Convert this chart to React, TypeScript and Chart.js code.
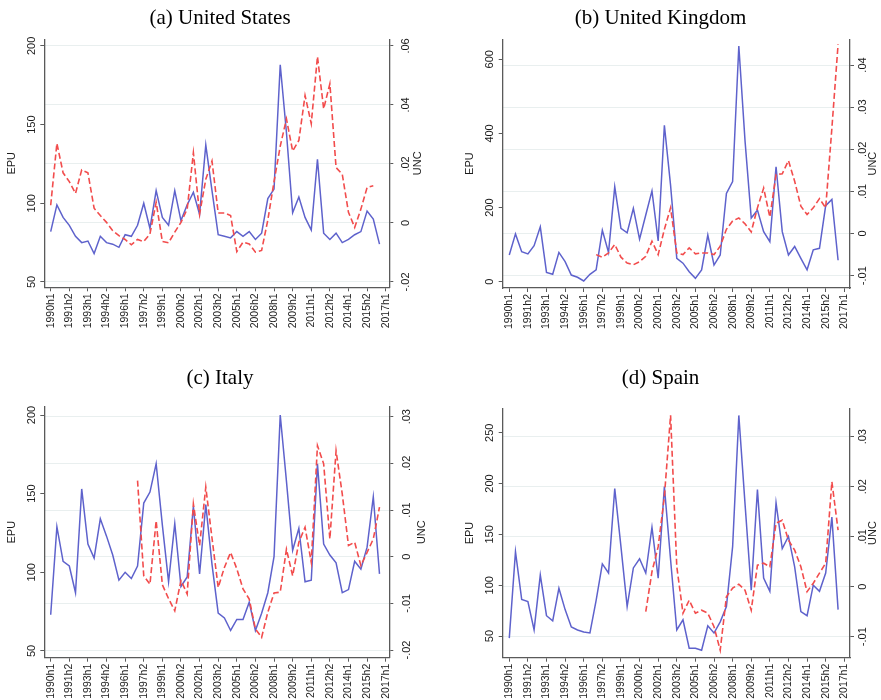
import React, { useEffect, useRef } from 'react';
import { Chart, registerables } from 'chart.js';

Chart.register(...registerables);

// ---------- data ----------
const PERIODS = [
  '1990h1', '1990h2', '1991h1', '1991h2', '1992h1', '1992h2', '1993h1', '1993h2', '1994h1', '1994h2',
  '1995h1', '1995h2', '1996h1', '1996h2', '1997h1', '1997h2', '1998h1', '1998h2', '1999h1', '1999h2',
  '2000h1', '2000h2', '2001h1', '2001h2', '2002h1', '2002h2', '2003h1', '2003h2', '2004h1', '2004h2',
  '2005h1', '2005h2', '2006h1', '2006h2', '2007h1', '2007h2', '2008h1', '2008h2', '2009h1', '2009h2',
  '2010h1', '2010h2', '2011h1', '2011h2', '2012h1', '2012h2', '2013h1', '2013h2', '2014h1', '2014h2',
  '2015h1', '2015h2', '2016h1', '2016h2', '2017h1',
];
const X_TICKS = [0, 3, 6, 9, 12, 15, 18, 21, 24, 27, 30, 33, 36, 39, 42, 45, 48, 51, 54];

const US_EPU = [82, 99, 91, 86, 79, 75, 76, 68, 79, 75, 74, 72, 80, 79, 86, 100, 84, 108, 91, 86,
  108, 89, 99, 107, 93, 137, 108, 80, 79, 78, 82, 79, 82, 77, 81, 103, 109, 188, 145, 94,
  104, 91, 83, 128, 81, 77, 81, 75, 77, 80, 82, 95, 90, 74];
const US_UNC = [0.006, 0.027, 0.017, 0.014, 0.010, 0.018, 0.017, 0.005, 0.0025, 0.0002,
  -0.0026, -0.0043, -0.0056, -0.0074, -0.0056, -0.0063, -0.0037, 0.007, -0.0063, -0.0067,
  -0.0031, 0.0002, 0.0047, 0.0238, 0.003, 0.0148, 0.021, 0.0034, 0.0034, 0.0025,
  -0.0097, -0.0065, -0.0071, -0.0099, -0.0093, 0.001, 0.014, 0.026, 0.0353, 0.0244,
  0.028, 0.0432, 0.0337, 0.0564, 0.0387, 0.0472, 0.0188, 0.0165, 0.0036, -0.0015,
  0.0047, 0.012, 0.0126, null];

const UK_EPU = [72, 129, 81, 75, 97, 148, 25, 20, 79, 54, 18, 12, 2, 20, 32, 139, 79, 256, 144, 132,
  198, 115, 180, 245, 110, 422, 260, 63, 50, 27, 9, 32, 126, 45, 72, 238, 270, 636, 380, 172,
  193, 135, 108, 310, 135, 72, 95, 63, 32, 86, 90, 205, 222, 58];
const UK_UNC = [null, null, null, null, null, null, null, null, null, null,
  null, null, null, null, -0.005, -0.0056, -0.0046, -0.0026, -0.0056, -0.007,
  -0.0074, -0.0067, -0.0054, -0.0018, -0.005, 0.001, 0.0061, -0.0046, -0.005, -0.0034,
  -0.0048, -0.0046, -0.0046, -0.005, -0.003, 0.001, 0.003, 0.0037, 0.0023, 0.0004,
  0.0061, 0.0108, 0.0039, 0.014, 0.0142, 0.0173, 0.0124, 0.0065, 0.0045, 0.0061,
  0.0083, 0.0061, 0.025, 0.0449];

const IT_EPU = [73, 129, 107, 104, 87, 153, 118, 109, 134, 123, 111, 95, 100, 96, 104, 144, 151, 169, 130, 94,
  131, 91, 97, 142, 99, 143, 105, 74, 71, 63, 70, 70, 81, 63, 74, 87, 110, 200, 158, 114,
  128, 94, 95, 169, 118, 111, 106, 87, 89, 107, 102, 116, 148, 99];
const IT_UNC = [null, null, null, null, null, null, null, null, null, null,
  null, null, null, null, 0.0163, -0.0041, -0.0059, 0.0077, -0.006, -0.009,
  -0.0116, -0.0051, -0.008, 0.0113, 0.0024, 0.0149, 0.004, -0.0066, -0.0023, 0.0009,
  -0.0026, -0.0069, -0.0091, -0.0155, -0.0173, -0.0119, -0.0078, -0.0076, 0.0016, -0.0041,
  0.0031, 0.0063, -0.0012, 0.0238, 0.0199, 0.0038, 0.0227, 0.0134, 0.0024, 0.0031,
  -0.0019, 0.0009, 0.0038, 0.0106];

const ES_EPU = [48, 133, 86, 84, 56, 110, 70, 65, 97, 76, 59, 56, 54, 53, 85, 121, 112, 195, 138, 79,
  117, 126, 112, 157, 107, 197, 125, 56, 66, 38, 38, 36, 60, 53, 64, 79, 138, 267, 180, 95,
  194, 107, 94, 181, 136, 148, 118, 74, 70, 100, 94, 112, 167, 76];
const ES_UNC = [null, null, null, null, null, null, null, null, null, null,
  null, null, null, null, null, null, null, null, null, null,
  null, null, -0.005, 0.003, 0.008, 0.018, 0.0343, 0.004, -0.0053, -0.0027,
  -0.0053, -0.0047, -0.0053, -0.008, -0.0127, -0.002, -0.0003, 0.0005, -0.0007, -0.0047,
  0.0043, 0.0047, 0.004, 0.0127, 0.0133, 0.0093, 0.0073, 0.004, -0.001, 0.0007,
  0.0027, 0.0047, 0.021, 0.0113];

const US_EPU_TICKS = [50, 100, 150, 200];
const US_UNC_TICKS = [-0.02, 0, 0.02, 0.04, 0.06];
const UK_EPU_TICKS = [0, 200, 400, 600];
const UK_UNC_TICKS = [-0.01, 0, 0.01, 0.02, 0.03, 0.04];
const IT_EPU_TICKS = [50, 100, 150, 200];
const IT_UNC_TICKS = [-0.02, -0.01, 0, 0.01, 0.02, 0.03];
const ES_EPU_TICKS = [50, 100, 150, 200, 250];
const ES_UNC_TICKS = [-0.01, 0, 0.01, 0.02, 0.03];

// ---------- style ----------
const BLUE = '#5e62cc';
const RED = '#f24c4c';
const AXIS = '#5a5a5a';
const GRID = '#e9efef';
const TEXT = '#1c1c1c';
const SANS = '"Liberation Sans", Arial, Helvetica, sans-serif';
const SERIF = '"Liberation Serif", "Times New Roman", serif';

const fmtUnc = (v: number) => {
  if (Math.abs(v) < 1e-9) return '0';
  return v.toFixed(2).replace('0.', '.');
};

const axisTitles = {
  id: 'axisTitles',
  afterDraw(chart: any, _args: any, opts: any) {
    const { ctx, chartArea } = chart;
    const cy = (chartArea.top + chartArea.bottom) / 2;
    ctx.save();
    ctx.font = `11px ${SANS}`;
    ctx.fillStyle = TEXT;
    ctx.textAlign = 'center';
    ctx.textBaseline = 'middle';
    const items: [string, number][] = [
      [opts.left, chartArea.left - opts.leftOffset],
      [opts.right, chartArea.right + opts.rightOffset],
    ];
    for (const [t, x] of items) {
      ctx.save();
      ctx.translate(x, cy);
      ctx.rotate(-Math.PI / 2);
      ctx.fillText(t, 0, 0);
      ctx.restore();
    }
    ctx.restore();
  },
};

type PanelCfg = {
  title: string;
  x: number; y: number; w: number; h: number;
  leftW: number; rightW: number; titleTop: number; titleBottom: number; xH: number;
  xMin: number; xMax: number;
  lMin: number; lMax: number; lTicks: number[];
  rMin: number; rMax: number; rTicks: number[];
  lPad: number; rPad: number;
  leftOffset: number; rightOffset: number;
  epu: (number | null)[]; unc: (number | null)[];
};

const PANELS: PanelCfg[] = [
  {
    title: '(a) United States', x: 0, y: 0, w: 440, h: 345,
    leftW: 44.3, rightW: 50.7, titleTop: 5.7, titleBottom: 8.4, xH: 57.7,
    xMin: -1.03, xMax: 54.58,
    lMin: 46.6, lMax: 204.2, lTicks: US_EPU_TICKS,
    rMin: -0.02181, rMax: 0.06226, rTicks: US_UNC_TICKS,
    lPad: -1, rPad: 3, leftOffset: 32.6, rightOffset: 29,
    epu: US_EPU, unc: US_UNC,
  },
  {
    title: '(b) United Kingdom', x: 440, y: 0, w: 441, h: 345,
    leftW: 62.7, rightW: 31, titleTop: 5.7, titleBottom: 8.4, xH: 57,
    xMin: -1.06, xMax: 54.92,
    lMin: -17, lMax: 654, lTicks: UK_EPU_TICKS,
    rMin: -0.01292, rMax: 0.0461, rTicks: UK_UNC_TICKS,
    lPad: 0, rPad: -0.5, leftOffset: 32.7, rightOffset: 23.3,
    epu: UK_EPU, unc: UK_UNC,
  },
  {
    title: '(c) Italy', x: 0, y: 360, w: 440, h: 340,
    leftW: 44.3, rightW: 50.7, titleTop: 5.7, titleBottom: 15.8, xH: 42.3,
    xMin: -1.03, xMax: 54.58,
    lMin: 45.7, lMax: 205.3, lTicks: IT_EPU_TICKS,
    rMin: -0.02165, rMax: 0.03214, rTicks: IT_UNC_TICKS,
    lPad: -0.5, rPad: 4, leftOffset: 32.6, rightOffset: 32.4,
    epu: IT_EPU, unc: IT_UNC,
  },
  {
    title: '(d) Spain', x: 440, y: 360, w: 441, h: 340,
    leftW: 62.7, rightW: 31, titleTop: 5.7, titleBottom: 17.4, xH: 42.3,
    xMin: -1.06, xMax: 54.92,
    lMin: 28.7, lMax: 274, lTicks: ES_EPU_TICKS,
    rMin: -0.0142, rMax: 0.03568, rTicks: ES_UNC_TICKS,
    lPad: 0, rPad: -0.5, leftOffset: 32.7, rightOffset: 23.3,
    epu: ES_EPU, unc: ES_UNC,
  },
];

function Panel({ cfg }: { cfg: PanelCfg }) {
  const ref = useRef<HTMLCanvasElement>(null);
  useEffect(() => {
    const canvas = ref.current;
    if (!canvas) return;
    const border = { display: true, color: AXIS, width: 1.3 };
    const chart = new Chart(canvas, {
      type: 'line',
      data: {
        datasets: [
          {
            label: 'UNC',
            data: cfg.unc.map((v, i) => ({ x: i, y: v })) as any,
            yAxisID: 'yR',
            borderColor: RED,
            borderWidth: 1.6,
            borderDash: [6, 3],
            pointRadius: 0,
            fill: false,
            tension: 0,
            spanGaps: false,
          },
          {
            label: 'EPU',
            data: cfg.epu.map((v, i) => ({ x: i, y: v })) as any,
            yAxisID: 'yL',
            borderColor: BLUE,
            borderWidth: 1.5,
            pointRadius: 0,
            fill: false,
            tension: 0,
            spanGaps: false,
          },
        ],
      },
      options: {
        responsive: false,
        animation: false,
        devicePixelRatio: 1,
        layout: { padding: 0 },
        plugins: {
          legend: { display: false },
          tooltip: { enabled: false },
          title: {
            display: true,
            text: cfg.title,
            color: '#000',
            font: { family: SERIF, size: 21, weight: 'normal' as any },
            padding: { top: cfg.titleTop, bottom: cfg.titleBottom },
          },
          axisTitles: { left: 'EPU', right: 'UNC', leftOffset: cfg.leftOffset, rightOffset: cfg.rightOffset },
        } as any,
        scales: {
          x: {
            type: 'linear',
            min: cfg.xMin,
            max: cfg.xMax,
            afterBuildTicks: (s: any) => { s.ticks = X_TICKS.map((v) => ({ value: v })); },
            afterFit: (s: any) => { s.height = cfg.xH; },
            ticks: {
              autoSkip: false,
              minRotation: 90,
              maxRotation: 90,
              padding: 2,
              color: TEXT,
              font: { family: SANS, size: 10.5 },
              callback: (v: any) => PERIODS[Math.round(Number(v))] ?? '',
            },
            grid: { drawOnChartArea: false, tickLength: 4, tickColor: AXIS, tickWidth: 1 },
            border,
          },
          yL: {
            type: 'linear',
            position: 'left',
            min: cfg.lMin,
            max: cfg.lMax,
            afterBuildTicks: (s: any) => { s.ticks = cfg.lTicks.map((v) => ({ value: v })); },
            afterFit: (s: any) => { s.width = cfg.leftW; },
            ticks: {
              minRotation: 90,
              maxRotation: 90,
              crossAlign: 'center',
              padding: cfg.lPad,
              color: TEXT,
              font: { family: SANS, size: 11 },
              callback: (v: any) => String(v),
            },
            grid: { drawOnChartArea: false, tickLength: 4, tickColor: AXIS, tickWidth: 1 },
            border,
          },
          yR: {
            type: 'linear',
            position: 'right',
            min: cfg.rMin,
            max: cfg.rMax,
            afterBuildTicks: (s: any) => { s.ticks = cfg.rTicks.map((v) => ({ value: v })); },
            afterFit: (s: any) => { s.width = cfg.rightW; },
            ticks: {
              minRotation: 90,
              maxRotation: 90,
              crossAlign: 'center',
              padding: cfg.rPad,
              color: TEXT,
              font: { family: SANS, size: 11 },
              callback: (v: any) => fmtUnc(Number(v)),
            },
            grid: { drawOnChartArea: true, color: GRID, lineWidth: 1, tickLength: 4, tickColor: AXIS, tickWidth: 1 },
            border,
          },
        } as any,
      },
      plugins: [axisTitles as any],
    });
    return () => chart.destroy();
  }, [cfg]);
  return (
    <canvas
      ref={ref}
      width={cfg.w}
      height={cfg.h}
      style={{ position: 'absolute', left: cfg.x, top: cfg.y, width: cfg.w, height: cfg.h, display: 'block' }}
    />
  );
}

export default function App() {
  return (
    <div style={{ position: 'absolute', left: 0, top: 0, width: 881, height: 700, background: '#fff', overflow: 'hidden' }}>
      {PANELS.map((p) => (
        <Panel key={p.title} cfg={p} />
      ))}
    </div>
  );
}
